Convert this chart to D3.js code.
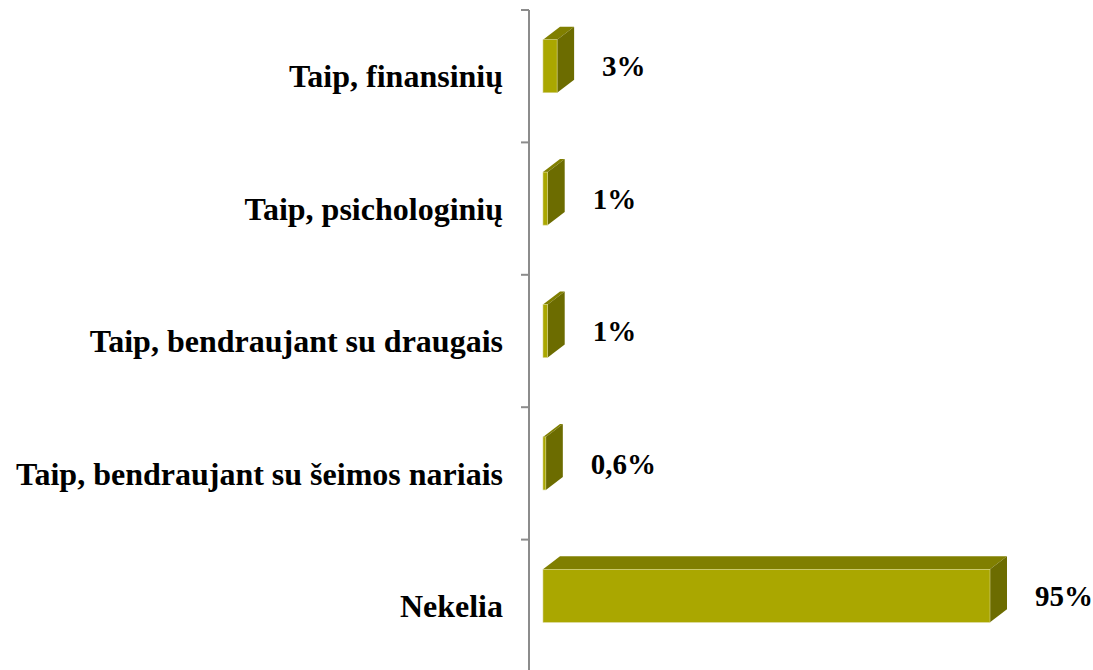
<!DOCTYPE html>
<html>
<head>
<meta charset="utf-8">
<script src="https://cdn.jsdelivr.net/npm/d3@7/dist/d3.min.js"></script>
<style>
  html, body { margin: 0; padding: 0; background: #fff; }
  svg { display: block; }
</style>
</head>
<body>
<svg id="chart" width="1093" height="670"></svg>
<script>
// Answers (top to bottom) and their shares in percent
const categories = [
  "Taip, finansinių",
  "Taip, psichologinių",
  "Taip, bendraujant su draugais",
  "Taip, bendraujant su šeimos nariais",
  "Nekelia"
];
const values = [3, 1, 1, 0.6, 95];
const valueLabels = ["3%", "1%", "1%", "0,6%", "95%"];

const W = 1093, H = 670;
const svg = d3.select("#chart");

const axisX = 529;
const barStart = 543;
const y = d3.scaleBand().domain(categories).range([10, 672]).paddingInner(0).paddingOuter(0);
const x = d3.scaleLinear().domain([0, 95]).range([barStart, 990]);

// 3-D extrusion of each bar
const depthX = 17, depthY = 13;
const barH = 53;
const frontOffset = -10; // front face sits slightly above the band centre

const colFront = "#aaa700", colTop = "#807f00", colSide = "#6c6c00";

const data = categories.map((c, i) => ({ cat: c, v: values[i], label: valueLabels[i] }));

const bars = svg.append("g").selectAll("g").data(data).join("g");

bars.each(function(d) {
  const g = d3.select(this);
  const cy = y(d.cat) + y.bandwidth() / 2 + frontOffset;
  const x0 = x(0), x1 = x(d.v);
  const y0 = cy - barH / 2, y1 = cy + barH / 2;
  // top face
  g.append("path")
    .attr("d", `M${x0},${y0} L${x0 + depthX},${y0 - depthY} L${x1 + depthX},${y0 - depthY} L${x1},${y0} Z`)
    .attr("fill", colTop);
  // right side face
  g.append("path")
    .attr("d", `M${x1},${y0} L${x1 + depthX},${y0 - depthY} L${x1 + depthX},${y1 - depthY} L${x1},${y1} Z`)
    .attr("fill", colSide);
  // front face
  g.append("rect")
    .attr("x", x0).attr("y", y0)
    .attr("width", x1 - x0).attr("height", barH)
    .attr("fill", colFront)
    .attr("stroke", "#d6d48a").attr("stroke-width", 0.6);
  // value label
  g.append("text")
    .attr("x", x1 + depthX + 28)
    .attr("y", cy)
    .attr("dy", "0.35em")
    .attr("font-family", "'Liberation Serif', 'Times New Roman', serif")
    .attr("font-weight", "bold")
    .attr("font-size", 29)
    .attr("fill", "#000")
    .text(d.label);
});

// Category axis with outward ticks at band boundaries
const axisG = svg.append("g").attr("transform", `translate(${axisX},0)`);
axisG.append("line")
  .attr("x1", 0).attr("x2", 0).attr("y1", 10).attr("y2", H)
  .attr("stroke", "#8c8c8c").attr("stroke-width", 2);
const boundaries = categories.map(c => y(c)).concat([y.range()[1]]);
axisG.selectAll("line.tick").data(boundaries).join("line")
  .attr("class", "tick")
  .attr("x1", -8).attr("x2", 0)
  .attr("y1", d => d).attr("y2", d => d)
  .attr("stroke", "#8c8c8c").attr("stroke-width", 2);

axisG.selectAll("text").data(categories).join("text")
  .attr("x", -26)
  .attr("y", d => y(d) + y.bandwidth() / 2)
  .attr("dy", "0.35em")
  .attr("text-anchor", "end")
  .attr("font-family", "'Liberation Serif', 'Times New Roman', serif")
  .attr("font-weight", "bold")
  .attr("font-size", 32)
  .attr("fill", "#000")
  .text(d => d);
</script>
</body>
</html>
